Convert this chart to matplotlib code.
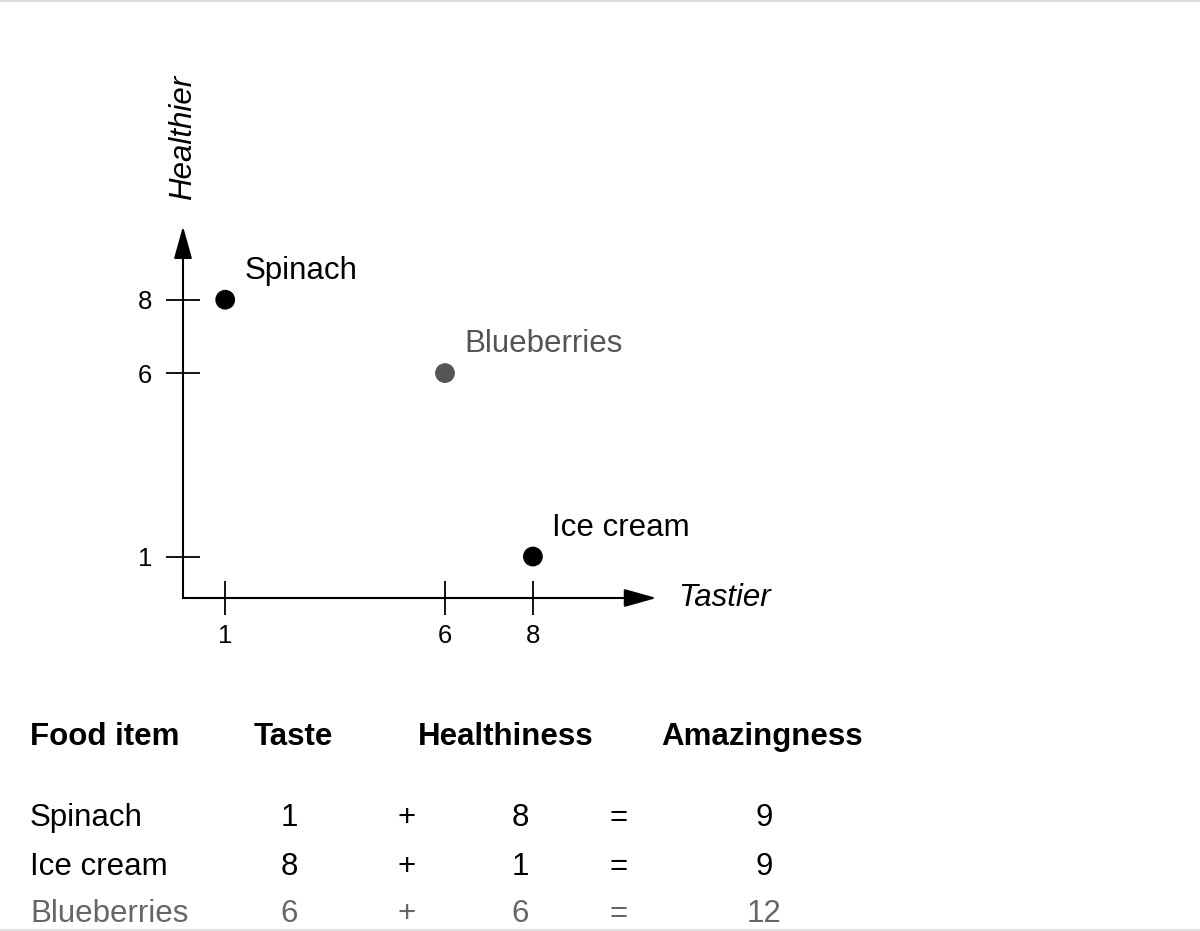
import numpy as np
import matplotlib
matplotlib.use('Agg')
import matplotlib.pyplot as plt
from matplotlib.lines import Line2D

plt.rcParams['font.family'] = ['Liberation Sans', 'DejaVu Sans']

# data
foods = ['Spinach', 'Ice cream', 'Blueberries']
taste = [1, 8, 6]
health = [8, 1, 6]
amazing = [9, 9, 12]
highlight = 'Blueberries'

GREY = '#555555'
colors = [GREY if f == highlight else 'black' for f in foods]
W, H = 1200, 931
FS = 22.5

fig = plt.figure(figsize=(12, 9.31), dpi=100)

# scatter panel: axis lines meet at pixel (183, 598)
x0, xmax = 0.04, 10.81
y0, ymax = -0.13, 10.0
ax = fig.add_axes([183 / W, 1 - 598 / H, 43.96 * (xmax - x0) / W, 36.69 * (ymax - y0) / H])
ax.set_xlim(x0, xmax)
ax.set_ylim(y0, ymax)
for s in ax.spines.values():
    s.set_visible(False)

arrow = dict(arrowstyle='-|>,head_length=1.0,head_width=0.28', mutation_scale=20,
             lw=1.5, color='black', shrinkA=0, shrinkB=0)
ax.annotate('', xy=(xmax, y0), xytext=(x0, y0), arrowprops=arrow, annotation_clip=False)
ax.annotate('', xy=(x0, ymax), xytext=(x0, y0), arrowprops=arrow, annotation_clip=False)

ax.set_xticks(sorted(taste))
ax.set_yticks(sorted(health))
ax.tick_params(direction='inout', length=24, width=1.3, labelsize=18.5, color='black')
ax.tick_params(axis='x', pad=7)
ax.tick_params(axis='y', pad=10)

ax.scatter(taste, health, s=175, c=colors, zorder=3, clip_on=False)
for f, x, y, c in zip(foods, taste, health, colors):
    ax.annotate(f, (x, y), xytext=(14, 15), textcoords='offset points',
                fontsize=FS, color=c, ha='left', va='baseline')

ax.annotate('Tastier', (xmax, y0), xytext=(16, 0), textcoords='offset points',
            fontsize=FS, style='italic', ha='left', va='center', annotation_clip=False)
ax.annotate('Healthier', (x0, ymax), xytext=(0, 19), textcoords='offset points',
            fontsize=FS, style='italic', rotation=90, ha='center', va='bottom',
            annotation_clip=False)

# table below
def fy(py):
    return 1 - py / H

headers = ['Food item', 'Taste', 'Healthiness', 'Amazingness']
head_x = [30, 293, 506, 762]
for i, (h, hx) in enumerate(zip(headers, head_x)):
    fig.text(hx / W, fy(745), h, fontsize=FS, fontweight='bold',
             ha='left' if i == 0 else 'center', va='baseline')

row_y = [826, 875, 922]
for f, t, hv, a, c, ry in zip(foods, taste, health, amazing, colors, row_y):
    c = '#666666' if c == GREY else 'black'
    fig.text(30 / W, fy(ry), f, fontsize=FS, color=c, ha='left', va='baseline')
    fig.text(289 / W, fy(ry), str(t), fontsize=FS, color=c, ha='center', va='baseline')
    fig.text(407 / W, fy(ry), '+', fontsize=FS, color=c, ha='center', va='baseline')
    fig.text(520 / W, fy(ry), str(hv), fontsize=FS, color=c, ha='center', va='baseline')
    fig.text(619 / W, fy(ry), '=', fontsize=FS, color=c, ha='center', va='baseline')
    fig.text(764 / W, fy(ry), str(a), fontsize=FS, color=c, ha='center', va='baseline')

# thin frame lines at top and bottom
fig.add_artist(Line2D([0, 1], [fy(1), fy(1)], color='#dddddd', lw=1.5))
fig.add_artist(Line2D([0, 1], [fy(929.5), fy(929.5)], color='#dddddd', lw=1.2))

fig.savefig('out.png', dpi=100)
